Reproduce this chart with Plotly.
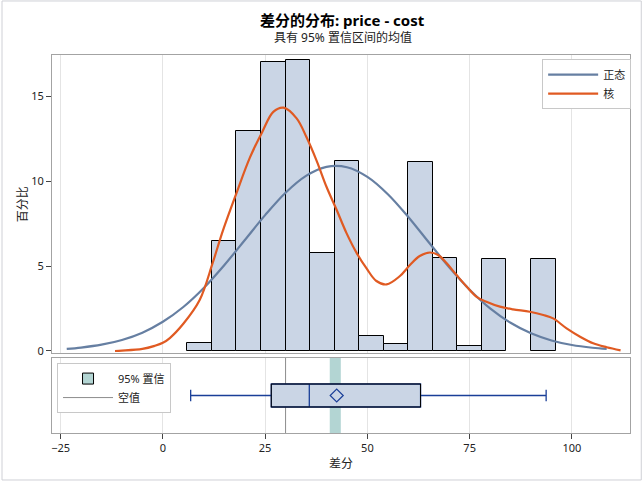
import plotly.graph_objects as go

# ---------------- data ----------------
bin_centers = [9, 15, 21, 27, 33, 39, 45, 51, 57, 63, 69, 75, 81, 87, 93]
bin_percent = [0.47, 6.47, 12.94, 17.04, 17.16, 5.76, 11.18, 0.88, 0.39, 11.12, 5.45, 0.28, 5.41, None, 5.41]
bin_width = 6

normal_x = [-23.5, -20, -15, -10, -5, 0, 5, 10, 15, 20, 25, 30, 35, 40, 45, 50, 55, 60, 65, 70, 75, 80, 85, 90, 95, 100, 105, 108.5]
normal_y = [0.12, 0.20, 0.37, 0.65, 1.08, 1.72, 2.59, 3.71, 5.05, 6.52, 8.00, 9.32, 10.31, 10.84, 10.82, 10.25, 9.23, 7.89, 6.40, 4.93, 3.61, 2.51, 1.66, 1.04, 0.62, 0.35, 0.19, 0.12]

kernel_x = [-11.7, -10, -5, -2, 0, 1.7, 5, 9.0, 12.2, 14.7, 18.0, 21.3, 24.3, 27.0, 29.5, 32.7, 35.1, 37.6, 40.0, 42.5, 44.9, 47.4, 49.8,
            52.2, 54.7, 57.9, 60.4, 62.8, 65.3, 67.3, 69.4, 71.8, 74.3, 76.7, 79.1, 82.4, 85.6, 89.7, 93.0, 95.4, 98.7, 102.0, 105.2, 108.5, 111.9]
kernel_y = [0.0, 0.02, 0.12, 0.3, 0.48, 0.76, 1.6, 3.0, 5.2, 7.1, 9.3, 11.4, 12.9, 14.08, 14.33, 13.7, 12.6, 11.2, 9.67, 8.3, 6.94, 5.76, 4.86,
            4.12, 3.92, 4.4, 5.06, 5.59, 5.8, 5.65, 5.16, 4.47, 3.78, 3.19, 2.9, 2.61, 2.45, 2.31, 2.12, 1.92, 1.33, 0.84, 0.45, 0.22, 0.04]

box_min = 6.8
box_q1 = 26.5
box_median = 35.8
box_q3 = 63.0
box_max = 93.7
mean_value = 42.5
ci_low = 40.8
ci_high = 43.5
null_value = 30

x_ticks = [-25, 0, 25, 50, 75, 100]
y_ticks = [0, 5, 10, 15]

# ---------------- styles ----------------
FONT = "Noto Sans, Noto Sans CJK SC, sans-serif"
FILL = "#cad5e5"
BLUE_LINE = "#667fa2"
ORANGE = "#e05a22"
DARK_BLUE = "#1a3f98"
TEAL = "#b3d5d3"
FRAME = "#a3a3a3"
GRID = "#e4e4e4"
XR = [-27.1, 114.2]
BOX_Y = 0.5
BOX_H = 0.307

fig = go.Figure()

fig.add_trace(go.Bar(
    x=bin_centers, y=bin_percent, width=bin_width,
    marker=dict(color=FILL, line=dict(color="black", width=1)),
    xaxis="x", yaxis="y", showlegend=False, hoverinfo="skip"))

fig.add_trace(go.Scatter(
    x=normal_x, y=normal_y, mode="lines", name="正态",
    line=dict(color=BLUE_LINE, width=2.2, shape="spline"),
    xaxis="x", yaxis="y", legend="legend"))

fig.add_trace(go.Scatter(
    x=kernel_x, y=kernel_y, mode="lines", name="核",
    line=dict(color=ORANGE, width=2.2, shape="spline"),
    xaxis="x", yaxis="y", legend="legend"))

# box plot (lower panel)
fig.add_trace(go.Box(
    orientation="h", y=[BOX_Y], q1=[box_q1], median=[box_median], q3=[box_q3],
    lowerfence=[box_min], upperfence=[box_max], width=BOX_H,
    fillcolor=FILL, line=dict(color=DARK_BLUE, width=1.3), whiskerwidth=0.5,
    boxpoints=False, xaxis="x2", yaxis="y2", showlegend=False, hoverinfo="skip"))

fig.add_trace(go.Scatter(
    x=[mean_value], y=[BOX_Y], mode="markers",
    marker=dict(symbol="diamond-open", size=10, color=DARK_BLUE, line=dict(width=1.2)),
    xaxis="x2", yaxis="y2", showlegend=False, hoverinfo="skip"))

# legend entries for lower panel
fig.add_trace(go.Scatter(
    x=[None], y=[None], mode="markers", name="95% 置信",
    marker=dict(symbol="square", size=11, color=TEAL, line=dict(color="black", width=1)),
    xaxis="x2", yaxis="y2", legend="legend2"))
fig.add_trace(go.Scatter(
    x=[None], y=[None], mode="lines", name="空值",
    line=dict(color="#8c8c8c", width=1),
    xaxis="x2", yaxis="y2", legend="legend2"))

shapes = [
    dict(type="rect", xref="x2", yref="y2 domain", x0=ci_low, x1=ci_high, y0=0, y1=1,
         fillcolor=TEAL, line=dict(width=0), layer="below"),
    dict(type="line", xref="x2", yref="y2 domain", x0=null_value, x1=null_value, y0=0, y1=1,
         line=dict(color="#8c8c8c", width=1), layer="below"),
    dict(type="rect", xref="x2", yref="y2", x0=box_q1, x1=box_q3,
         y0=BOX_Y - BOX_H / 2, y1=BOX_Y + BOX_H / 2,
         line=dict(color="black", width=1), fillcolor="rgba(0,0,0,0)"),
    dict(type="rect", xref="paper", yref="paper", x0=-0.0865, x1=1.0195, y0=-0.1243, y1=1.1429,
         line=dict(color="#cfd0d6", width=1), fillcolor="rgba(0,0,0,0)"),
]

annotations = [
    dict(text="<b>差分的分布: price - cost</b>", xref="paper", yref="paper", x=0.503, y=1.0926,
         showarrow=False, font=dict(size=15, color="black", family=FONT), xanchor="center", yanchor="middle"),
    dict(text="具有 95% 置信区间的均值", xref="paper", yref="paper", x=0.503, y=1.0476,
         showarrow=False, font=dict(size=12, color="#222", family=FONT), xanchor="center", yanchor="middle"),
    dict(text="百分比", xref="paper", yref="paper", x=-0.0519, y=0.605, textangle=-90,
         showarrow=False, font=dict(size=12, color="#222", family=FONT), xanchor="center", yanchor="middle"),
    dict(text="差分", xref="paper", yref="paper", x=0.5, y=-0.082,
         showarrow=False, font=dict(size=12, color="#222", family=FONT), xanchor="center", yanchor="middle"),
]

axis_common = dict(range=XR, showline=True, mirror=True, linecolor=FRAME, linewidth=1,
                   showgrid=True, gridcolor=GRID, gridwidth=1, zeroline=False,
                   tickvals=x_ticks)

fig.update_layout(
    width=644, height=483,
    margin=dict(l=52, r=14, t=55, b=50),
    paper_bgcolor="white", plot_bgcolor="white",
    font=dict(family=FONT, size=11, color="#222"),
    bargap=0,
    xaxis=dict(**axis_common, anchor="y", showticklabels=False, ticks=""),
    yaxis=dict(domain=[0.2116, 1], range=[-0.12, 17.43], showline=True, mirror=True,
               linecolor=FRAME, linewidth=1, showgrid=False, zeroline=False,
               tickvals=y_ticks, ticks="outside", ticklen=5, tickcolor="#444",
               tickfont=dict(size=11, color="#222"), anchor="x"),
    xaxis2=dict(**axis_common, anchor="y2", ticks="outside", ticklen=5, tickcolor="#444",
                tickfont=dict(size=11, color="#222")),
    yaxis2=dict(domain=[0, 0.1984], range=[0, 1], showline=True, mirror=True,
                linecolor=FRAME, linewidth=1, showgrid=False, zeroline=False,
                showticklabels=False, ticks="", anchor="x2"),
    legend=dict(x=0.848, y=0.989, xanchor="left", yanchor="top",
                bordercolor="#c8c8c8", borderwidth=1, bgcolor="white",
                font=dict(size=11, color="#222"), tracegroupgap=0, itemwidth=50),
    legend2=dict(x=0.0087, y=0.185, xanchor="left", yanchor="top",
                 bordercolor="#c8c8c8", borderwidth=1, bgcolor="white",
                 font=dict(size=11, color="#222"), tracegroupgap=0, itemwidth=50),
    shapes=shapes,
    annotations=annotations,
)

fig.write_html("out.html")
